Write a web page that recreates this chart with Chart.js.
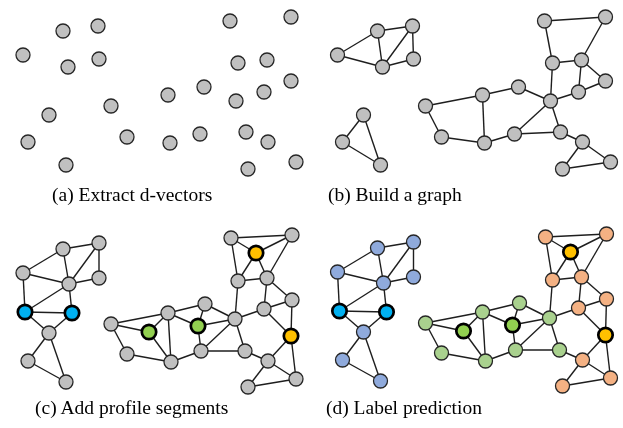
<!DOCTYPE html>
<html>
<head>
<meta charset="utf-8">
<script src="https://cdn.jsdelivr.net/npm/chart.js@4.4.1/dist/chart.umd.min.js"></script>
<style>
  html, body { margin: 0; padding: 0; background: #ffffff; }
  #wrap { position: relative; width: 623px; height: 428px; overflow: hidden; }
  #c { position: absolute; left: 0; top: 0; }
  .cap { position: absolute; font-family: "Liberation Serif", "Times New Roman", serif;
         font-size: 19.5px; line-height: 19.5px; color: #000; white-space: nowrap; }
</style>
</head>
<body>
<div id="wrap">
  <canvas id="c" width="623" height="428"></canvas>
</div>
<script>
// ---- data: node positions (panel-local), edges, classes, captions ----
const topNodes = [
  [63,31],[98,26],[23,55],[68,67],[99,59],
  [49,115],[28,142],[66,165],
  [111,106],[168,95],[204,87],[127,137],[170,143],[200,134],[236,101],
  [246,132],[268,142],[248,169],[296,162],[238,63],[267,60],[291,81],
  [264,92],[230,21],[291,17]
];
const topEdges = [
  [2,0],[0,1],[0,3],[1,3],[1,4],[3,4],[2,3],
  [5,6],[6,7],[5,7],
  [8,9],[9,10],[10,14],[8,11],[11,12],[9,12],[12,13],[13,14],[13,15],[14,15],
  [15,16],[16,17],[17,18],[16,18],[14,19],[19,20],[19,23],[23,24],[24,20],
  [20,22],[20,21],[21,22],[22,14]
];
const bottomNodes = [
  [63,249],[99,243],[23,273],[69,284],[99,278],[25,312],[72,313],[49,333],[28,361],[66,382],
  [111,324],[149,332],[168,313],[205,304],[198,326],[127,354],[171,362],[201,351],
  [235,319],[245,351],[268,361],[248,387],[296,379],[291,336],[292,300],[264,309],
  [267,278],[238,281],[256,253],[231,238],[292,235]
];
const bottomEdges = [
  [2,0],[0,1],[0,3],[1,3],[1,4],[3,4],[2,3],[2,5],[5,3],[3,6],[5,6],[5,7],[6,7],[7,8],[7,9],[8,9],
  [10,12],[10,11],[10,15],[11,12],[11,16],[12,13],[12,16],[12,14],[13,14],[13,18],[14,18],[14,17],
  [15,16],[16,17],[17,18],[17,19],[18,19],[18,25],[18,27],[19,20],[20,21],[20,22],[21,22],[20,23],
  [23,22],[23,25],[23,24],[24,25],[25,26],[26,24],[26,27],[26,28],[27,28],[27,29],[29,30],[29,28],
  [30,28],[30,26]
];
// predicted speaker label of each bottom node (panel d)
const bottomLabels = [
  'A','A','A','A','A','A','A','A','A','A',
  'B','B','B','B','B','B','B','B','B','B',
  'C','C','C','C','C','C','C','C','C','C','C'
];
// profile segments (highlighted nodes) and their speaker
const profileNodes = [5, 6, 11, 14, 23, 28];
const profileLabels = ['A','A','B','B','C','C'];
const captions = ['(a) Extract d-vectors', '(b) Build a graph', '(c) Add profile segments', '(d) Label prediction'];

// ---- styling / layout ----
const panelOffsets = [[0,0],[314.5,0],[0,0],[314.5,-1]];
const captionPos = [[52,185],[328,185],[35,397.5],[326,397.5]];
const GRAY = '#c0c0c0';
const predColor = { A: '#8faadc', B: '#a9d18e', C: '#f4b183' };
const profColor = { A: '#00b0f0', B: '#92d050', C: '#ffc000' };

const datasets = [];

function nodeSet(nodes, off, fillFn, hlFn) {
  const data = nodes.map(p => ({ x: p[0] + off[0], y: p[1] + off[1] }));
  const fills = nodes.map((p, i) => fillFn(i));
  const hl = nodes.map((p, i) => hlFn(i));
  datasets.push({
    data,
    order: 0,
    showLine: false,
    pointRadius: hl.map(h => h ? 7.2 : 7),
    pointHoverRadius: hl.map(h => h ? 7.2 : 7),
    pointBackgroundColor: fills,
    pointBorderColor: hl.map(h => h ? '#000000' : '#262626'),
    pointBorderWidth: hl.map(h => h ? 2.7 : 1.3),
    pointHoverBorderWidth: hl.map(h => h ? 2.7 : 1.3)
  });
}
function edgeSets(nodes, edges, off) {
  edges.forEach(e => {
    const a = nodes[e[0]], b = nodes[e[1]];
    datasets.push({
      data: [{ x: a[0] + off[0], y: a[1] + off[1] }, { x: b[0] + off[0], y: b[1] + off[1] }],
      order: 1,
      showLine: true,
      borderColor: '#1e1e1e',
      borderWidth: 1.4,
      pointRadius: 0,
      pointHoverRadius: 0,
      fill: false
    });
  });
}

// panel a: points only
nodeSet(topNodes, panelOffsets[0], () => GRAY, () => false);
// panel b: graph
nodeSet(topNodes, panelOffsets[1], () => GRAY, () => false);
edgeSets(topNodes, topEdges, panelOffsets[1]);
// panel c: graph with profile segments
nodeSet(bottomNodes, panelOffsets[2], i => {
  const k = profileNodes.indexOf(i);
  return k >= 0 ? profColor[profileLabels[k]] : GRAY;
}, i => profileNodes.indexOf(i) >= 0);
edgeSets(bottomNodes, bottomEdges, panelOffsets[2]);
// panel d: label prediction
nodeSet(bottomNodes, panelOffsets[3], i => {
  const k = profileNodes.indexOf(i);
  return k >= 0 ? profColor[profileLabels[k]] : predColor[bottomLabels[i]];
}, i => profileNodes.indexOf(i) >= 0);
edgeSets(bottomNodes, bottomEdges, panelOffsets[3]);

new Chart(document.getElementById('c'), {
  type: 'scatter',
  data: { datasets },
  options: {
    responsive: false,
    animation: false,
    events: [],
    layout: { padding: 0, autoPadding: false },
    clip: false,
    plugins: { legend: { display: false }, tooltip: { enabled: false } },
    scales: {
      x: { type: 'linear', min: 0, max: 623, display: false },
      y: { type: 'linear', min: 0, max: 428, reverse: true, display: false }
    },
    elements: { line: { tension: 0 } }
  }
});

// captions as real text
const wrap = document.getElementById('wrap');
captions.forEach((t, i) => {
  const d = document.createElement('div');
  d.className = 'cap';
  d.textContent = t;
  d.style.left = captionPos[i][0] + 'px';
  d.style.top = captionPos[i][1] + 'px';
  wrap.appendChild(d);
});
</script>
</body>
</html>
